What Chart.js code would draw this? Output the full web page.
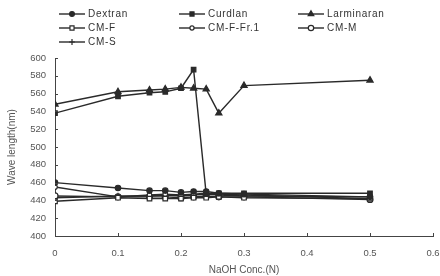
<!DOCTYPE html>
<html>
<head>
<meta charset="utf-8">
<script src="https://cdn.jsdelivr.net/npm/chart.js@4.4.1/dist/chart.umd.min.js"></script>
<style>
  html, body { margin: 0; padding: 0; background: #fff; }
  #wrap { width: 440px; height: 276px; position: relative; }
</style>
</head>
<body>
<div id="wrap"><canvas id="chart" width="440" height="276"></canvas></div>
<script>
// ── Data ─────────────────────────────────────
const naohConc   = [0, 0.1, 0.15, 0.175, 0.2, 0.22, 0.24, 0.26, 0.3, 0.5];
const dextran    = [460, 454, 451, 451, 449, 450, 450, 448, 447, 444];
const curdlan    = [538, 557, 561, 562, 566, 587, 447, 448, 448, 448];
const larminaran = [548, 562, 564, 565, 567, 566, 565, 538, 569, 575];
const cmF        = [439, 443, 442, 442, 442, 443, 443, 444, 443, 442];
const cmFFr1     = [455, 444, 446, 447, 446, 447, 448, 447, 446, 442];
const cmM        = [445, 444, 444, 444, 443, 444, 445, 444, 444, 441];
const cmS        = [443, 445, 445, 446, 445, 446, 447, 446, 445, 444];
const yTicks     = [400, 420, 440, 460, 480, 500, 520, 540, 560, 580, 600];

const INK  = '#2a2a2a';
const TEXT = '#555';
const FONT = '"Liberation Sans", Arial, sans-serif';

function series(label, values, style, radius, filled) {
  return {
    label,
    data: naohConc.map((x, i) => ({ x, y: values[i] })),
    borderColor: INK,
    borderWidth: 1.4,
    pointStyle: style,
    pointRadius: radius,
    pointBorderWidth: 1.2,
    pointBorderColor: INK,
    pointBackgroundColor: filled ? INK : '#fff',
    tension: 0
  };
}

const datasets = [
  series('Dextran',     dextran,    'circle',   2.7, true),
  series('Curdlan',     curdlan,    'rect',     3.2, true),
  series('Larminaran',  larminaran, 'triangle', 3.6, true),
  series('CM-F',        cmF,        'rect',     3.2, false),
  series('CM-F-Fr.1',   cmFFr1,     'circle',   2.3, false),
  series('CM-M',        cmM,        'circle',   3,   false),
  series('CM-S',        cmS,        'cross',    3.2, false)
];

// ── Legend drawn on canvas, 3 columns ────────
const legendPlugin = {
  id: 'gridLegend',
  afterDraw(chart) {
    const ctx = chart.ctx;
    const cols = [59, 179, 298];
    const rows = [14, 28, 42];
    ctx.save();
    chart.data.datasets.forEach((ds, i) => {
      const x = cols[i % 3];
      const y = rows[Math.floor(i / 3)];
      ctx.strokeStyle = INK;
      ctx.lineWidth = 1.4;
      ctx.beginPath();
      ctx.moveTo(x, y);
      ctx.lineTo(x + 26, y);
      ctx.stroke();
      ctx.fillStyle = ds.pointBackgroundColor;
      ctx.lineWidth = 1.2;
      Chart.helpers.drawPoint(ctx, {
        pointStyle: ds.pointStyle,
        radius: ds.pointRadius * 0.9,
        rotation: 0,
        borderWidth: 1.2
      }, x + 13, y);
      ctx.fillStyle = '#333';
      ctx.font = '10px ' + FONT;
      ctx.letterSpacing = '0.7px';
      ctx.textBaseline = 'middle';
      ctx.fillText(ds.label, x + 29, y + 0.5);
    });
    ctx.restore();
  }
};

// ── Inward tick marks ────────────────────────
const tickPlugin = {
  id: 'innerTicks',
  afterDraw(chart) {
    const { ctx, chartArea, scales } = chart;
    ctx.save();
    ctx.strokeStyle = '#444';
    ctx.lineWidth = 1;
    scales.x.ticks.forEach((t, i) => {
      const px = Math.round(scales.x.getPixelForTick(i)) + 0.5;
      ctx.beginPath();
      ctx.moveTo(px, chartArea.bottom);
      ctx.lineTo(px, chartArea.bottom - 3);
      ctx.stroke();
    });
    scales.y.ticks.forEach((t, i) => {
      const py = Math.round(scales.y.getPixelForTick(i)) + 0.5;
      ctx.beginPath();
      ctx.moveTo(chartArea.left, py);
      ctx.lineTo(chartArea.left + 3, py);
      ctx.stroke();
    });
    ctx.restore();
  }
};

const tickFont = { family: FONT, size: 9.5 };

new Chart(document.getElementById('chart'), {
  type: 'line',
  data: { datasets },
  options: {
    responsive: false,
    animation: false,
    layout: { padding: { top: 58, right: 7, bottom: 0, left: 6 } },
    plugins: { legend: { display: false }, tooltip: { enabled: false } },
    scales: {
      x: {
        type: 'linear',
        min: 0,
        max: 0.6,
        ticks: { stepSize: 0.1, color: TEXT, font: tickFont, padding: 12 },
        grid: { display: true, drawOnChartArea: false, drawTicks: false },
        border: { display: true, color: '#444', width: 1 },
        title: {
          display: true,
          text: 'NaOH Conc.(N)',
          color: TEXT,
          font: { family: FONT, size: 10 },
          padding: { top: 1, bottom: 0 }
        },
        afterFit(scale) {
          scale.height = 40;
          scale.paddingRight = 0;
          scale.paddingLeft = 0;
        }
      },
      y: {
        min: 400,
        max: 600,
        afterBuildTicks(scale) { scale.ticks = yTicks.map(v => ({ value: v })); },
        ticks: { color: TEXT, font: tickFont, padding: 9 },
        grid: { display: true, drawOnChartArea: false, drawTicks: false },
        border: { display: true, color: '#444', width: 1 },
        title: {
          display: true,
          text: 'Wave length(nm)',
          color: TEXT,
          font: { family: FONT, size: 10 },
          padding: { top: 0, bottom: 2 }
        },
        afterFit(scale) { scale.width = 49; }
      }
    }
  },
  plugins: [legendPlugin, tickPlugin]
});
</script>
</body>
</html>
